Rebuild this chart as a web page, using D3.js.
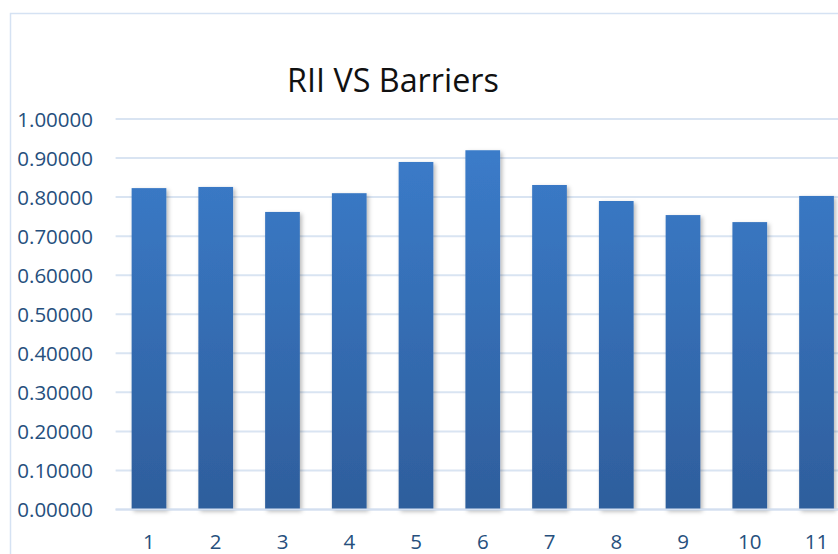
<!DOCTYPE html>
<html>
<head>
<meta charset="utf-8">
<script src="https://cdn.jsdelivr.net/npm/d3@7/dist/d3.min.js"></script>
<style>
  html, body { margin: 0; padding: 0; background: #fff; overflow: hidden; }
  svg { display: block; }
</style>
</head>
<body>
<svg id="chart" width="838" height="554"></svg>
<script>
// Relative Importance Index for each barrier
const barriers = ["1", "2", "3", "4", "5", "6", "7", "8", "9", "10", "11"];
const riiValues = [0.823, 0.826, 0.762, 0.810, 0.890, 0.920, 0.831, 0.790, 0.754, 0.736, 0.803];
const yTicks = [0, 0.1, 0.2, 0.3, 0.4, 0.5, 0.6, 0.7, 0.8, 0.9, 1.0];
const chartTitle = "RII VS Barriers";

const W = 838, H = 554;
const svg = d3.select("#chart");
const fontFamily = "'Open Sans', 'Noto Sans', sans-serif";
const labelSize = 20.5;

const plot = { left: 115.6, right: 849.9, top: 119, bottom: 509.5 };

const x = d3.scaleBand()
  .domain(barriers)
  .range([plot.left, plot.right])
  .paddingInner(0.48)
  .paddingOuter(0.24);

const y = d3.scaleLinear()
  .domain([0, 1])
  .range([plot.bottom, plot.top]);

// Definitions: bar gradient and soft shadow
const defs = svg.append("defs");
const grad = defs.append("linearGradient")
  .attr("id", "barGrad")
  .attr("gradientUnits", "userSpaceOnUse")
  .attr("x1", 0).attr("x2", 0)
  .attr("y1", y(1)).attr("y2", y(0));
grad.append("stop").attr("offset", "0%").attr("stop-color", "#3c7ecd");
grad.append("stop").attr("offset", "100%").attr("stop-color", "#2e5e9c");

const shadow = defs.append("filter")
  .attr("id", "barShadow")
  .attr("x", "-30%").attr("y", "-10%")
  .attr("width", "160%").attr("height", "130%");
shadow.append("feDropShadow")
  .attr("dx", 2).attr("dy", 2)
  .attr("stdDeviation", 2.2)
  .attr("flood-color", "#000")
  .attr("flood-opacity", 0.28);

// Chart area frame
svg.append("rect")
  .attr("x", 10.5).attr("y", 13.5)
  .attr("width", W + 20).attr("height", H + 20)
  .attr("fill", "none")
  .attr("stroke", "#d5e2f3")
  .attr("stroke-width", 1.5);

// Title, sized to its box
const title = svg.append("text")
  .attr("x", 393)
  .attr("y", 92)
  .attr("text-anchor", "middle")
  .attr("font-family", "'Open Sans', sans-serif")
  .attr("font-size", 30)
  .attr("fill", "#111")
  .text(chartTitle);
const tw = title.node().getComputedTextLength();
title.attr("font-size", 30 * 212 / tw);

// Gridlines
svg.append("g")
  .selectAll("line")
  .data(yTicks)
  .join("line")
  .attr("x1", plot.left)
  .attr("x2", W + 5)
  .attr("y1", d => y(d))
  .attr("y2", d => y(d))
  .attr("stroke", "#d9e4f2")
  .attr("stroke-width", 2);

// Y axis labels
const yAxis = d3.axisLeft(y)
  .tickValues(yTicks)
  .tickFormat(d3.format(".5f"))
  .tickSize(0)
  .tickPadding(0);
const yg = svg.append("g")
  .attr("transform", "translate(93,0)")
  .call(yAxis);
yg.select(".domain").remove();
yg.selectAll("text")
  .attr("font-family", fontFamily)
  .attr("font-size", labelSize)
  .attr("fill", "#264f7d")
  .attr("dy", "0.35em");

// Bars
svg.append("g")
  .selectAll("rect")
  .data(riiValues)
  .join("rect")
  .attr("x", (d, i) => x(barriers[i]))
  .attr("y", d => y(d))
  .attr("width", x.bandwidth())
  .attr("height", d => y(0) - y(d))
  .attr("fill", "url(#barGrad)")
  .attr("filter", "url(#barShadow)");

// X axis line and labels
svg.append("line")
  .attr("x1", plot.left).attr("x2", W + 5)
  .attr("y1", y(0)).attr("y2", y(0))
  .attr("stroke", "#d3dff0")
  .attr("stroke-width", 2);

const xAxis = d3.axisBottom(x).tickSize(0).tickPadding(0);
const xg = svg.append("g")
  .attr("transform", `translate(0,${y(0)})`)
  .call(xAxis);
xg.select(".domain").remove();
xg.selectAll("text")
  .attr("font-family", fontFamily)
  .attr("font-size", labelSize)
  .attr("fill", "#264f7d")
  .attr("dy", 0)
  .attr("y", 39.5);
</script>
</body>
</html>
